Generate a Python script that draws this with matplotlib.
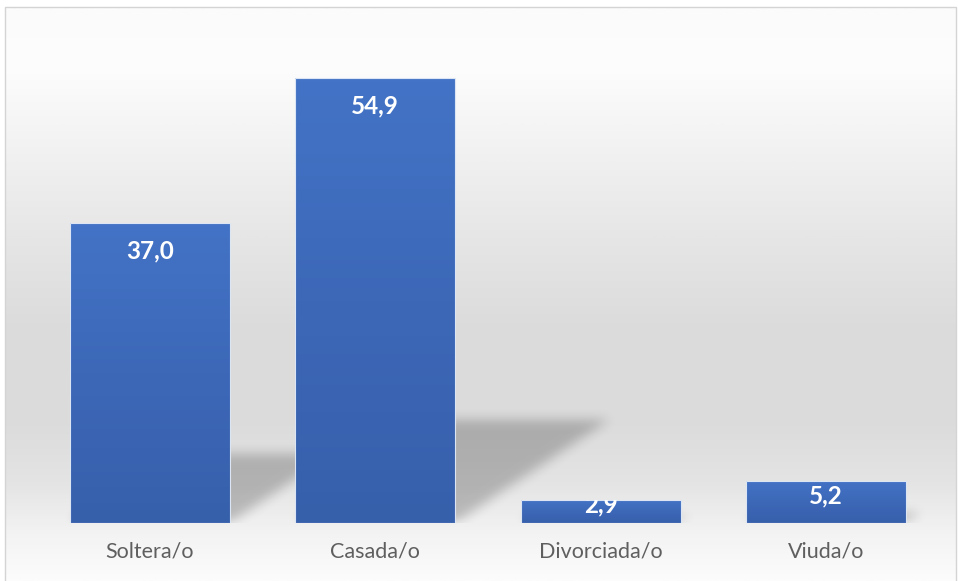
import numpy as np
import matplotlib
matplotlib.use("Agg")
import matplotlib.pyplot as plt
from matplotlib.patches import Rectangle
from matplotlib.colors import LinearSegmentedColormap

categories = ["Soltera/o", "Casada/o", "Divorciada/o", "Viuda/o"]
values = [37.0, 54.9, 2.9, 5.2]
value_labels = ["37,0", "54,9", "2,9", "5,2"]

W, H = 958, 581
fig = plt.figure(figsize=(W / 100, H / 100), dpi=100)
fig.patch.set_facecolor("white")

# background gradient inside the chart frame
bg = fig.add_axes([5 / W, 0, (956 - 5) / W, (H - 8) / H])
bg.set_axis_off()
stops = [(0.0, "#fbfbfb"), (0.10, "#fdfdfd"), (0.20, "#f5f5f5"), (0.40, "#e6e6e6"),
         (0.55, "#dcdcdc"), (0.72, "#dbdbdb"), (0.83, "#e4e4e4"), (0.92, "#f3f3f3"),
         (1.0, "#fcfcfc")]
bg_cmap = LinearSegmentedColormap.from_list("bg", stops)
grad = np.linspace(0, 1, 400).reshape(-1, 1)
bg.imshow(grad, aspect="auto", cmap=bg_cmap, extent=(0, 1, 0, 1), origin="upper")
bg.set_xlim(0, 1)
bg.set_ylim(0, 1)

# frame
fig.add_artist(Rectangle((5 / W, -0.02), (956 - 5) / W, (H - 7) / H + 0.02,
                         transform=fig.transFigure, fill=False,
                         edgecolor="#d4d4d4", linewidth=1.0))

# main axes
xlo, xhi = -0.58, 3.58
ylo, yhi = 0, 60
px_x = 225.3
px_y = 8.1
left = 150 - 0.58 * px_x
bottom = H - 523
ax = fig.add_axes([left / W, bottom / H, (xhi - xlo) * px_x / W, (yhi - ylo) * px_y / H])
ax.set_xlim(xlo, xhi)
ax.set_ylim(ylo, yhi)
ax.patch.set_alpha(0)
for s in ax.spines.values():
    s.set_visible(False)
ax.set_yticks([])
x = np.arange(len(categories))
ax.set_xticks(x)
ax.set_xticklabels(categories, fontsize=15.5, color="#5f5f5f", family=["Lato", "DejaVu Sans"])
ax.tick_params(axis="x", length=0, pad=13)

bar_w = 0.71

# soft perspective shadows
nx, ny = 940, 490
gx = np.linspace(xlo, xhi, nx)
gy = np.linspace(ylo, yhi, ny)
XX, YY = np.meshgrid(gx, gy)
mask = np.zeros_like(XX)
k, sh = 0.232, 0.01247
for xi, v in zip(x, values):
    Hs = k * v
    S = sh * v
    x0 = xi - bar_w / 2
    x1 = xi + bar_w / 2
    off = S * YY / Hs
    inside = (YY >= 0) & (YY <= Hs) & (XX >= x0 + off) & (XX <= x1 + off)
    mask[inside] = 1.0


def box_blur(a, r, axis):
    kern = np.ones(2 * r + 1) / (2 * r + 1)
    return np.apply_along_axis(lambda m: np.convolve(m, kern, mode="same"), axis, a)


for _ in range(3):
    mask = box_blur(mask, 5, 0)
    mask = box_blur(mask, 5, 1)
shadow = np.zeros((ny, nx, 4))
shadow[..., 3] = mask * 0.22
ax.imshow(shadow, extent=(xlo, xhi, ylo, yhi), origin="lower", aspect="auto",
          zorder=1, interpolation="bilinear")

# bars with vertical gradient
bar_cmap = LinearSegmentedColormap.from_list("bar", ["#3760ab", "#3d68b8", "#4373c6"])
bars = ax.bar(x, values, width=bar_w, color="none", edgecolor="#dbe5f4",
              linewidth=0.8, zorder=3)
for b, v in zip(bars, values):
    x0 = b.get_x()
    img = ax.imshow(np.linspace(0, 1, 100).reshape(-1, 1), cmap=bar_cmap, origin="lower",
                    extent=(x0, x0 + b.get_width(), 0, v), aspect="auto", zorder=2)
    img.set_clip_path(b)

# value labels: inside end, baseline below the bar top
for b, v, lab in zip(bars, values, value_labels):
    h_px = v * px_y
    drop_px = min(35, h_px / 2 + 1)
    t = ax.annotate(lab, (b.get_x() + b.get_width() / 2, v), xytext=(0, -drop_px * 0.72),
                    textcoords="offset points", ha="center", va="baseline",
                    fontsize=17.5, fontweight="bold", color="white",
                    family=["Lato", "DejaVu Sans"], zorder=4)
    t.set_clip_path(b)

fig.savefig("out.png", dpi=100)
